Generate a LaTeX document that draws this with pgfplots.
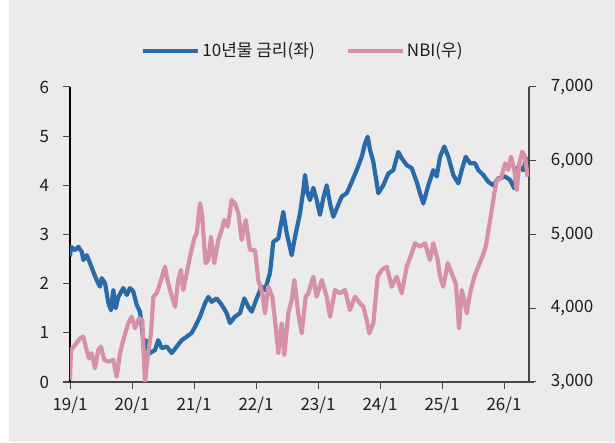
\documentclass[border=0pt]{standalone}
\usepackage{fontspec}
\setmainfont{Noto Sans CJK KR}
\usepackage{pgfplots}
\pgfplotsset{compat=1.18}
\definecolor{bg}{RGB}{235,235,235}
\definecolor{cblue}{RGB}{42,106,168}
\definecolor{cpink}{RGB}{214,145,166}
\definecolor{axgray}{RGB}{70,70,70}
\definecolor{txt}{RGB}{30,30,30}
\begin{document}
\fontsize{17}{20}\selectfont
\begin{tikzpicture}
\useasboundingbox (-70pt,-61pt) rectangle (545pt,382pt);
\fill[white] (-70pt,-61pt) rectangle (545pt,382pt);
\fill[bg] (-61pt,-60pt) rectangle (545pt,382pt);
\begin{axis}[
  at={(0pt,0pt)}, anchor=south west,
  scale only axis, width=459pt, height=295pt,
  xmin=0, xmax=7.403, ymin=0, ymax=6,
  axis x line*=bottom, axis y line*=left,
  xtick={0,1,2,3,4,5,6,7},
  xticklabels={19/1,20/1,21/1,22/1,23/1,24/1,25/1,26/1},
  ytick={0,1,2,3,4,5,6},
  tick align=outside, major tick length=7pt,
  tick style={axgray, line width=1pt},
  y axis line style={black, line width=1.2pt},
  x axis line style={axgray, line width=1.2pt, shorten <=-7pt, shorten >=-5pt},
  /pgf/number format/assume math mode=true,
  ticklabel style={font=\fontsize{17}{20}\selectfont, text=txt},
  yticklabel style={xshift=-8pt},
  xticklabel style={yshift=-2pt},
  clip=true,
]
\addplot[cblue, line width=4.2pt, line join=round] coordinates {
(0.000,2.55)(0.016,2.75)(0.081,2.68)(0.134,2.75)(0.189,2.65)(0.215,2.48)(0.269,2.58)(0.323,2.42)
(0.376,2.24)(0.431,2.07)(0.484,1.94)(0.511,2.11)(0.565,2.01)(0.618,1.61)(0.661,1.46)(0.698,1.87)
(0.737,1.50)(0.779,1.73)(0.860,1.91)(0.915,1.77)(0.968,1.91)(1.021,1.84)(1.076,1.57)(1.129,1.43)
(1.166,1.06)(1.194,0.59)(1.221,0.85)(1.290,0.59)(1.371,0.65)(1.424,0.85)(1.479,0.69)(1.560,0.72)
(1.640,0.59)(1.721,0.72)(1.802,0.85)(1.882,0.92)(1.963,1.00)(2.016,1.12)(2.097,1.33)(2.177,1.60)
(2.231,1.73)(2.285,1.63)(2.366,1.70)(2.447,1.57)(2.527,1.40)(2.581,1.20)(2.661,1.33)(2.742,1.40)
(2.811,1.70)(2.876,1.53)(2.931,1.43)(3.011,1.70)(3.092,1.94)(3.145,1.87)(3.226,2.22)(3.279,2.85)
(3.360,2.92)(3.440,3.46)(3.495,3.03)(3.576,2.58)(3.629,2.95)(3.710,3.43)(3.763,3.90)(3.790,4.21)
(3.831,3.84)(3.871,3.70)(3.924,3.95)(3.979,3.70)(4.032,3.40)(4.085,3.74)(4.140,4.00)(4.194,3.63)
(4.247,3.36)(4.302,3.53)(4.382,3.77)(4.463,3.84)(4.544,4.07)(4.624,4.31)(4.705,4.58)(4.758,4.85)
(4.802,4.99)(4.839,4.72)(4.892,4.48)(4.973,3.84)(5.053,4.00)(5.134,4.24)(5.215,4.31)(5.295,4.68)
(5.350,4.55)(5.431,4.41)(5.511,4.35)(5.592,4.07)(5.645,3.84)(5.698,3.63)(5.779,4.00)(5.860,4.31)
(5.915,4.18)(5.968,4.58)(6.037,4.79)(6.102,4.58)(6.182,4.21)(6.263,4.04)(6.318,4.31)(6.382,4.58)
(6.452,4.45)(6.532,4.45)(6.585,4.31)(6.666,4.21)(6.747,4.07)(6.827,4.00)(6.908,4.14)(7.016,4.18)
(7.097,4.11)(7.166,3.94)(7.231,4.38)(7.311,4.31)(7.366,4.58)
};
\end{axis}
\begin{axis}[
  at={(0pt,0pt)}, anchor=south west,
  scale only axis, width=459pt, height=295pt,
  xmin=0, xmax=7.403, ymin=3000, ymax=7000,
  axis x line=none, axis y line*=right,
  ytick={3000,4000,5000,6000,7000},
  tick align=outside, major tick length=7pt,
  tick style={axgray, line width=1pt},
  y axis line style={axgray, line width=1.2pt},
  /pgf/number format/assume math mode=true,
  /pgf/number format/1000 sep={,},
  ticklabel style={font=\fontsize{17}{20}\selectfont, text=txt},
  yticklabel style={xshift=9pt},
  legend style={at={(0.1547,1.122)}, anchor=west, draw=none, fill=none,
    legend columns=2, inner sep=0pt,
    nodes={inner xsep=2pt, inner ysep=0pt, font=\fontsize{17}{20}\selectfont, text=txt},
    /tikz/every even column/.append style={column sep=29pt}},
  legend image code/.code={\draw[#1] (0pt,0pt) -- (55pt,0pt);},
  clip=true,
]
\addlegendimage{cblue, line width=4.2pt}
\addlegendentry{10년물 금리(좌)}
\addplot[cpink, line width=4.2pt, line join=round] coordinates {
(0.000,3027)(0.016,3434)(0.081,3502)(0.161,3593)(0.215,3614)(0.253,3479)(0.306,3320)(0.350,3389)
(0.403,3186)(0.456,3434)(0.500,3479)(0.553,3298)(0.618,3275)(0.698,3298)(0.753,3072)(0.806,3389)
(0.860,3570)(0.940,3796)(0.995,3885)(1.048,3728)(1.113,3864)(1.166,3840)(1.210,2990)(1.253,3344)
(1.306,3660)(1.344,4157)(1.398,4202)(1.452,4337)(1.532,4563)(1.560,4428)(1.613,4247)(1.694,4021)
(1.747,4383)(1.790,4519)(1.827,4247)(1.882,4474)(1.935,4699)(2.005,4948)(2.044,5016)(2.097,5424)
(2.134,5242)(2.166,4835)(2.189,4610)(2.231,4654)(2.274,4970)(2.327,4610)(2.392,4925)(2.447,5061)
(2.489,5197)(2.544,5106)(2.608,5468)(2.661,5424)(2.715,5288)(2.769,4925)(2.834,5197)(2.903,4790)
(2.984,4790)(3.037,4383)(3.102,4202)(3.145,3932)(3.198,4292)(3.263,4157)(3.318,3750)(3.360,3389)
(3.415,3796)(3.456,3366)(3.521,3932)(3.576,4112)(3.618,4383)(3.682,3932)(3.737,3660)(3.802,4157)
(3.844,4202)(3.924,4428)(3.979,4157)(4.060,4383)(4.140,4157)(4.194,3885)(4.274,4247)(4.355,4202)
(4.435,4247)(4.516,3977)(4.597,4157)(4.677,4066)(4.731,4021)(4.785,3840)(4.827,3660)(4.892,3796)
(4.963,4428)(5.027,4519)(5.108,4563)(5.189,4292)(5.269,4428)(5.350,4202)(5.431,4563)(5.511,4745)
(5.565,4881)(5.645,4835)(5.726,4881)(5.806,4654)(5.860,4881)(5.931,4654)(5.968,4428)(6.021,4292)
(6.092,4610)(6.156,4474)(6.221,4337)(6.253,4021)(6.274,3728)(6.318,4247)(6.360,4112)(6.398,3932)
(6.452,4202)(6.521,4428)(6.585,4563)(6.650,4699)(6.705,4835)(6.758,5106)(6.802,5332)(6.844,5558)
(6.882,5739)(6.952,5761)(7.016,5965)(7.069,5875)(7.113,6055)(7.166,5875)(7.205,5603)(7.247,5965)
(7.295,6123)(7.339,6055)(7.382,5784)
};
\addlegendentry{NBI(우)}
\node[font=\fontsize{17}{20}\selectfont, text=txt] at (rel axis cs:-0.050,1.122) {(\%)};
\node[font=\fontsize{17}{20}\selectfont, text=txt] at (rel axis cs:1.083,1.122) {(pt)};
\end{axis}
\end{tikzpicture}
\end{document}
